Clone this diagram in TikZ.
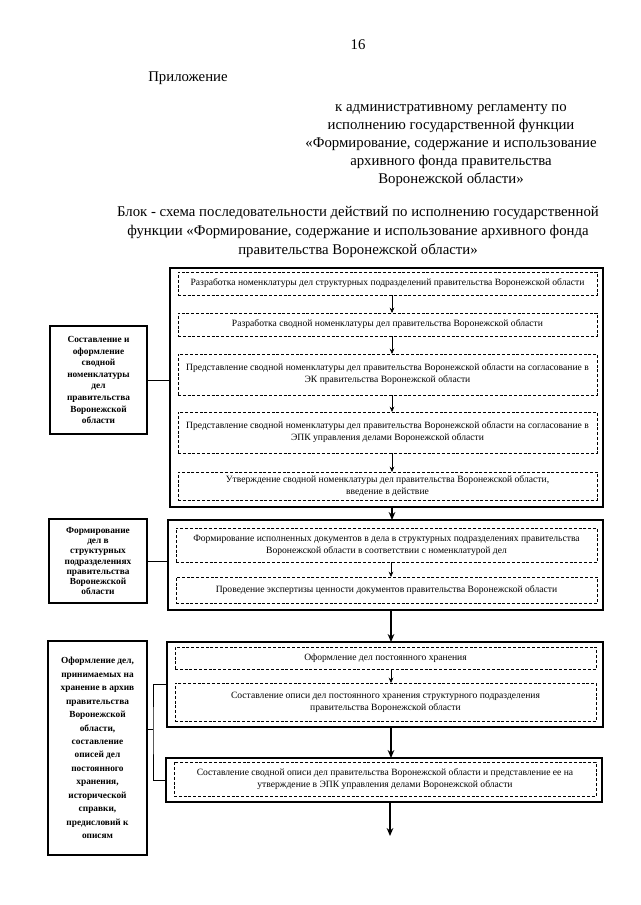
\documentclass[tikz,border=0pt]{standalone}
\usepackage{fontspec}
\setmainfont{Liberation Serif}
\usetikzlibrary{arrows.meta}
\newcommand\mybox[7]{\node[#6, minimum width={(#4-#2)*0.75pt}, minimum height={(#5-#3)*0.75pt}] (#1) at ({(#2+#4)/2},{(#3+#5)/2}) {#7};}
\begin{document}
\begin{tikzpicture}[x=0.75pt,y=-0.75pt,
  outerbox/.style={draw, line width=1.1pt, inner sep=0pt, outer sep=0pt},
  dbox/.style={draw, dash pattern=on 2.2pt off 1.4pt, line width=0.45pt, inner sep=0pt, outer sep=0pt,
    font=\fontsize{7.2}{9}\selectfont, align=center},
  lbox/.style={draw, line width=0.9pt, inner sep=0pt, outer sep=0pt, font=\bfseries\fontsize{7}{8.7}\selectfont, align=center},
  head/.style={font=\fontsize{11.1}{13.5}\selectfont, inner sep=0pt},
  thinarr/.style={line width=0.5pt, -{Stealth[length=4pt,width=3.5pt]}},
  thickarr/.style={line width=1.5pt, -{Stealth[length=6pt,width=5pt]}},
  conn/.style={line width=0.6pt}]
\path[use as bounding box, fill=white] (0,0) rectangle (640,905);

% header
\node[head] (pg) at (358,45) {16};
\node[head, anchor=west] (pril) at (148,78) {Приложение};
\node[head, align=center] (reg) at (451,146) {к административному регламенту по\\исполнению государственной функции\\«Формирование, содержание и использование\\архивного фонда правительства\\Воронежской области»};
\node[head, align=center, font=\fontsize{11.1}{14.6}\selectfont] (title) at (358,232) {Блок - схема последовательности действий по исполнению государственной\\функции «Формирование, содержание и использование архивного фонда\\правительства Воронежской области»};

% block 1
\mybox{B1}{170}{268}{603}{507}{outerbox}{}
\mybox{d1}{178}{272}{597}{295}{dbox}{Разработка номенклатуры дел структурных подразделений правительства Воронежской области}
\mybox{d2}{178}{313}{597}{336}{dbox}{Разработка сводной номенклатуры дел правительства Воронежской области}
\mybox{d3}{178}{354}{597}{395}{dbox}{Представление сводной номенклатуры дел правительства Воронежской области на согласование в\\ЭК правительства Воронежской области}
\mybox{d4}{178}{412}{597}{453}{dbox}{Представление сводной номенклатуры дел правительства Воронежской области на согласование в\\ЭПК управления делами Воронежской области}
\mybox{d5}{178}{472}{597}{500}{dbox}{Утверждение сводной номенклатуры дел правительства Воронежской области,\\введение в действие}

% block 2
\mybox{B2}{168}{520}{603}{610}{outerbox}{}
\mybox{d6}{176}{528}{597}{562}{dbox}{Формирование исполненных документов в дела в структурных подразделениях правительства\\Воронежской области в соответствии с номенклатурой дел}
\mybox{d7}{176}{577}{597}{603}{dbox}{Проведение экспертизы ценности документов правительства Воронежской области}

% block 3
\mybox{B3}{167}{642}{603}{727}{outerbox}{}
\mybox{d8}{175}{647}{596}{669}{dbox}{Оформление дел постоянного хранения}
\mybox{d9}{175}{683}{596}{721}{dbox}{Составление описи дел постоянного хранения структурного подразделения\\правительства Воронежской области}

% block 4
\mybox{B4}{166}{758}{602}{802}{outerbox}{}
\mybox{d10}{174}{762}{596}{796}{dbox}{Составление сводной описи дел правительства Воронежской области и представление ее на\\утверждение в ЭПК управления делами Воронежской области}

% left boxes
\mybox{L1}{50}{326}{147}{434}{lbox}{Составление и\\оформление\\сводной\\номенклатуры\\дел\\правительства\\Воронежской\\области}
\mybox{L2}{49}{519}{147}{603}{lbox, font=\bfseries\fontsize{7}{7.7}\selectfont}{Формирование\\дел в\\структурных\\подразделениях\\правительства\\Воронежской\\области}
\mybox{L3}{48}{641}{147}{855}{lbox, font=\bfseries\fontsize{7}{10.1}\selectfont}{Оформление дел,\\принимаемых на\\хранение в архив\\правительства\\Воронежской\\области,\\составление\\описей дел\\постоянного\\хранения,\\исторической\\справки,\\предисловий к\\описям}

% arrows
\coordinate (ax) at (392,0);
\coordinate (ay) at (391,0);
\coordinate (end) at (390,836);
\draw[thinarr] (d1.south -| ax) -- (d2.north -| ax);
\draw[thinarr] (d2.south -| ax) -- (d3.north -| ax);
\draw[thinarr] (d3.south -| ax) -- (d4.north -| ax);
\draw[thinarr] (d4.south -| ax) -- (d5.north -| ax);
\draw[thickarr] (B1.south -| ax) -- (B2.north -| ax);
\draw[thinarr] (d6.south -| ay) -- (d7.north -| ay);
\draw[thickarr] (B2.south -| ay) -- (B3.north -| ay);
\draw[thinarr] (d8.south -| ay) -- (d9.north -| ay);
\draw[thickarr] (B3.south -| ay) -- (B4.north -| ay);
\draw[thickarr] (B4.south -| end) -- (end);

% connectors
\draw[conn] (L1.east) -- (L1.east -| B1.west);
\draw[conn] (L2.east) -- (L2.east -| B2.west);
\coordinate (j) at (153,729);
\draw[conn] (L3.east |- j) -- (j);
\draw[conn] (B3.west) -| (j) |- (B4.west);
\end{tikzpicture}
\end{document}
